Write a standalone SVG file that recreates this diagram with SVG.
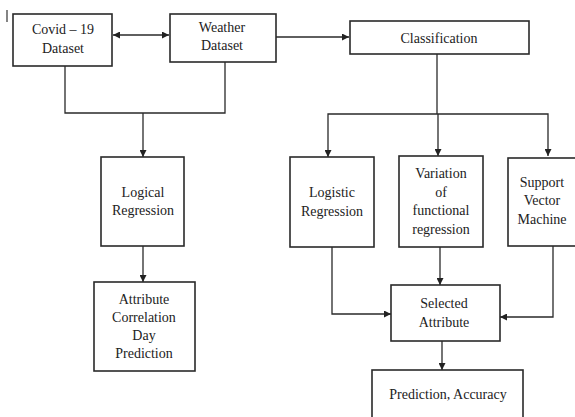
<svg xmlns="http://www.w3.org/2000/svg" width="575" height="417" viewBox="0 0 575 417">
<style>
.box{fill:#fff;stroke:#2a2a2a;stroke-width:1.6}
.t{font-family:"Liberation Serif","Times New Roman",serif;font-size:14px;fill:#222;text-anchor:middle}
.c{fill:none;stroke:#2a2a2a;stroke-width:1.3}
</style>
<defs>
<marker id="ah" viewBox="0 0 10 10" refX="10" refY="5" markerWidth="7" markerHeight="7" markerUnits="userSpaceOnUse" orient="auto-start-reverse">
<path d="M0,0 L10,5 L0,10 z" fill="#222"/>
</marker>
</defs>
<rect width="575" height="417" fill="#fff"/>
<line x1="7" y1="10" x2="7" y2="22" stroke="#333" stroke-width="1.2"/>
<g id="connectors">
<line class="c" x1="113" y1="35" x2="169" y2="35" marker-start="url(#ah)" marker-end="url(#ah)"/>
<line class="c" x1="276" y1="37" x2="349" y2="37" marker-end="url(#ah)"/>
<polyline class="c" points="65,66 65,113 225,113 225,62"/>
<line class="c" x1="143" y1="113" x2="143" y2="157" marker-end="url(#ah)"/>
<line class="c" x1="143" y1="246" x2="143" y2="282" marker-end="url(#ah)"/>
<line class="c" x1="437" y1="54" x2="437" y2="114"/>
<polyline class="c" points="328,157 328,114 548,114 548,156" marker-start="url(#ah)" marker-end="url(#ah)"/>
<line class="c" x1="438" y1="114" x2="438" y2="156" marker-end="url(#ah)"/>
<line class="c" x1="440" y1="247" x2="440" y2="285" marker-end="url(#ah)"/>
<polyline class="c" points="332,247 332,314 391,314" marker-end="url(#ah)"/>
<polyline class="c" points="553,246 553,317 500,317" marker-end="url(#ah)"/>
<line class="c" x1="442" y1="341" x2="442" y2="370" marker-end="url(#ah)"/>
</g>
<g id="covid">
<rect class="box" x="13" y="14" width="99" height="52"/>
<text class="t" x="63" y="34">Covid – 19</text>
<text class="t" x="63" y="53">Dataset</text>
</g>
<g id="weather">
<rect class="box" x="170" y="14" width="106" height="48"/>
<text class="t" x="222" y="32">Weather</text>
<text class="t" x="222" y="50">Dataset</text>
</g>
<g id="classification">
<rect class="box" x="350" y="21" width="179" height="33"/>
<text class="t" x="439" y="43">Classification</text>
</g>
<g id="logical">
<rect class="box" x="101" y="157" width="83" height="89"/>
<text class="t" x="143" y="197">Logical</text>
<text class="t" x="143" y="215">Regression</text>
</g>
<g id="attribute">
<rect class="box" x="94" y="282" width="101" height="89"/>
<text class="t" x="144" y="304">Attribute</text>
<text class="t" x="144" y="322">Correlation</text>
<text class="t" x="144" y="340">Day</text>
<text class="t" x="144" y="358">Prediction</text>
</g>
<g id="logistic">
<rect class="box" x="290" y="157" width="84" height="90"/>
<text class="t" x="332" y="197">Logistic</text>
<text class="t" x="332" y="216">Regression</text>
</g>
<g id="variation">
<rect class="box" x="399" y="156" width="84" height="91"/>
<text class="t" x="441" y="178">Variation</text>
<text class="t" x="441" y="197">of</text>
<text class="t" x="441" y="215">functional</text>
<text class="t" x="441" y="234">regression</text>
</g>
<g id="svm">
<rect class="box" x="508" y="158" width="70" height="88"/>
<text class="t" x="542" y="187">Support</text>
<text class="t" x="542" y="205">Vector</text>
<text class="t" x="542" y="224">Machine</text>
</g>
<g id="selected">
<rect class="box" x="391" y="285" width="109" height="56"/>
<text class="t" x="444" y="308">Selected</text>
<text class="t" x="444" y="327">Attribute</text>
</g>
<g id="prediction">
<rect class="box" x="372" y="370" width="151" height="52"/>
<text class="t" x="448" y="399">Prediction, Accuracy</text>
</g>
</svg>
